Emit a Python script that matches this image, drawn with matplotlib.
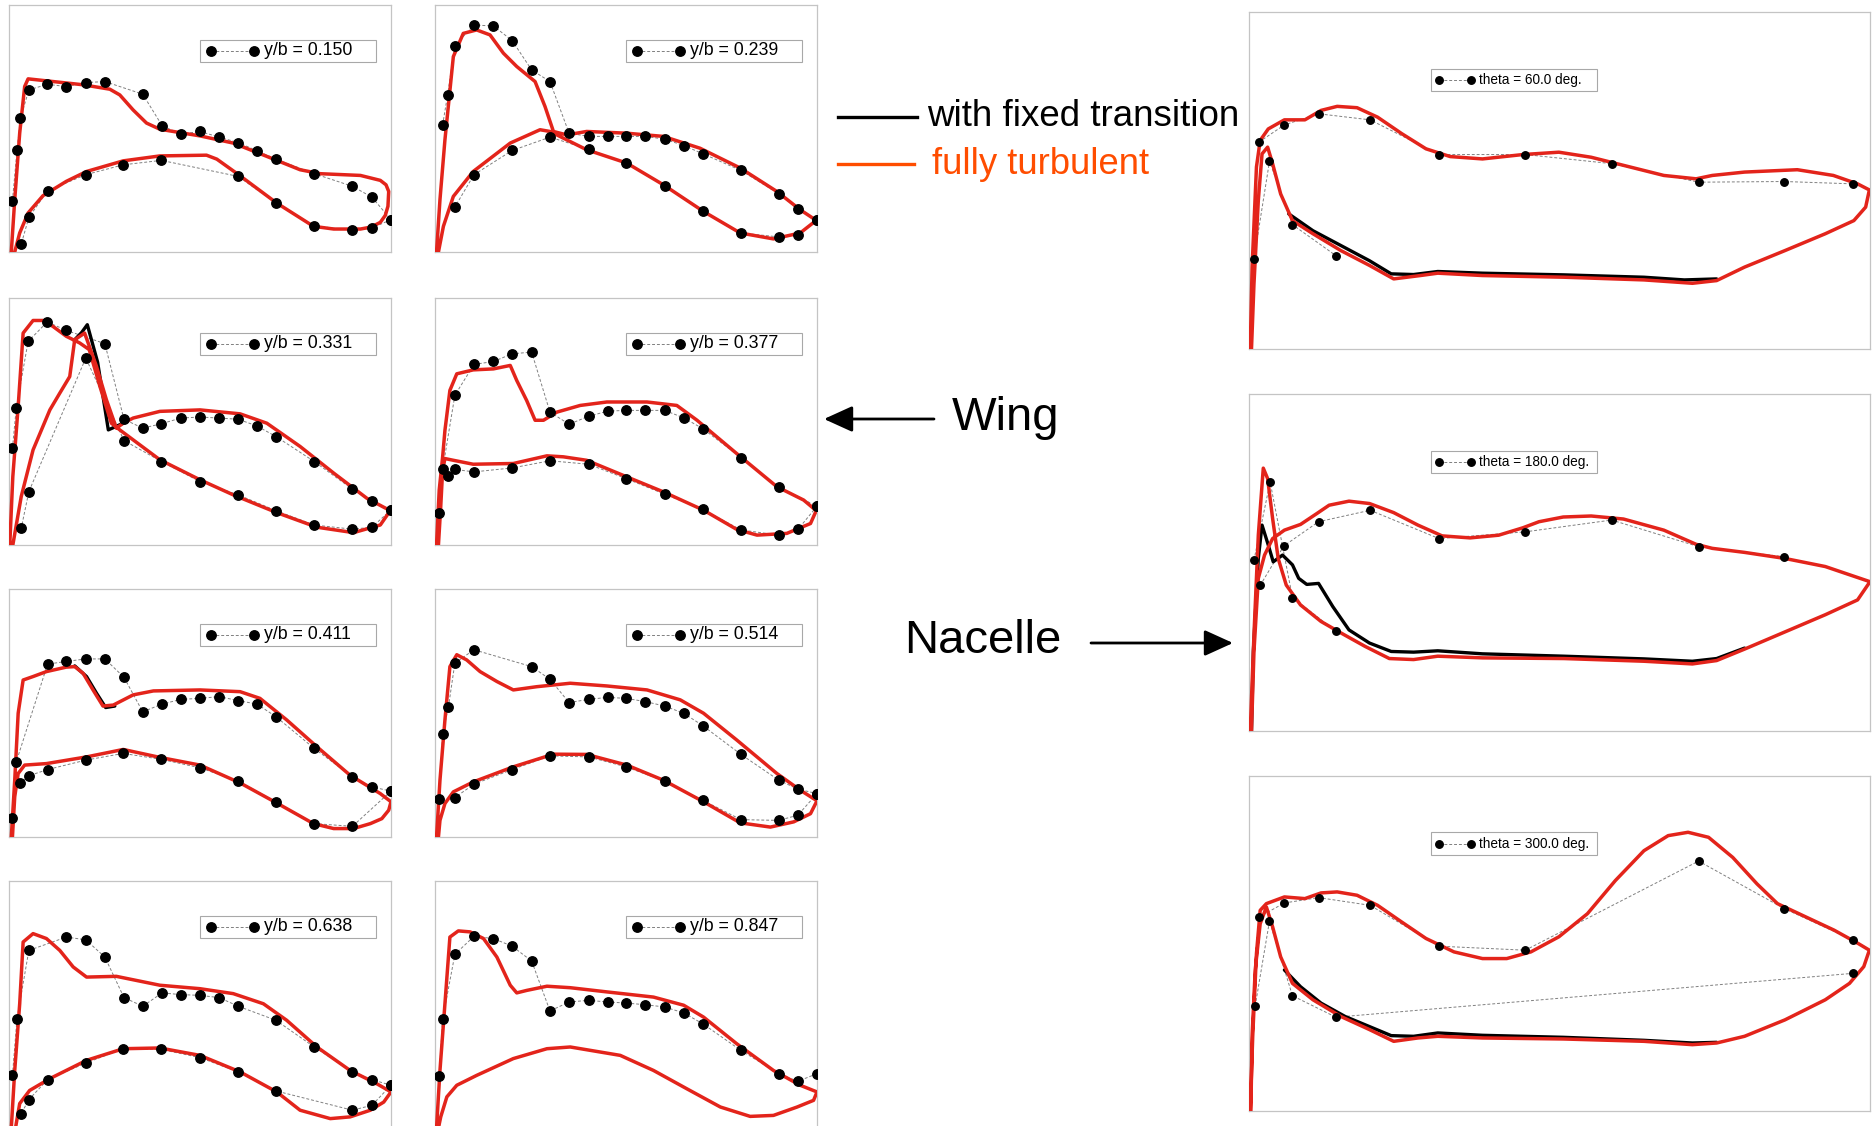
import matplotlib
matplotlib.use("Agg")
import matplotlib.pyplot as plt
from matplotlib import font_manager as fm
from matplotlib.patches import Rectangle, FancyArrowPatch

plt.rcParams['font.family'] = ['Liberation Sans', 'DejaVu Sans']
_names = {f.name for f in fm.fontManager.ttflist}
NARROW = 'Liberation Sans Narrow' if 'Liberation Sans Narrow' in _names else 'Liberation Sans'
NARROW_SIZE = 11.5 if NARROW == 'Liberation Sans Narrow' else 9.8

RED = "#e3241b"
ORANGE = "#ff4d00"
FRAME = "#c4c4c4"

# all values: x = fraction of chord, y = fraction of panel height (-Cp upward)

# ---------------------------------------------------------------- wing y/b = 0.150
w150_cfd_x = [.006, .015, .028, .041, .050, .098, .194, .264, .290, .325, .360, .395, .500, .587, .675,
              .762, .815, .920, .972, .987, .994, .992, .985, .972, .948, .920, .850, .797, .701, .601,
              .544, .517, .395, .299, .203, .150, .089, .050, .028, .015]
w150_cfd_y = [0, .212, .481, .670, .701, .693, .677, .659, .636, .575, .522, .497, .470, .441, .387,
              .333, .317, .310, .290, .272, .245, .185, .148, .120, .101, .093, .093, .104, .198, .313,
              .376, .392, .389, .369, .326, .286, .228, .158, .077, 0]
w150_up_x = [.009, .021, .030, .052, .100, .150, .201, .251, .350, .401, .450, .500, .550, .600, .649,
             .699, .799, .899, .950, 1.0]
w150_up_y = [.208, .411, .542, .656, .679, .670, .686, .690, .639, .511, .477, .488, .465, .443, .410,
             .376, .317, .266, .222, .131]
w150_lo_x = [1.0, .950, .899, .799, .699, .600, .399, .299, .201, .101, .052, .032]
w150_lo_y = [.131, .097, .088, .106, .198, .306, .371, .353, .313, .248, .140, .032]

# ---------------------------------------------------------------- wing y/b = 0.239
w239_cfd_x = [.004, .013, .026, .048, .074, .109, .144, .179, .214, .262, .288, .310, .345, .397, .502,
              .598, .694, .799, .895, .956, .998, .956, .886, .799, .703, .598, .502, .397, .345, .301,
              .275, .197, .100, .048, .022, .009]
w239_cfd_y = [0, .212, .454, .791, .885, .899, .879, .805, .751, .690, .589, .488, .474, .488, .481,
              .468, .420, .340, .245, .171, .128, .077, .053, .077, .164, .272, .360, .414, .454, .488,
              .495, .441, .326, .225, .104, 0]
w239_up_x = [.020, .033, .052, .102, .153, .202, .253, .301, .351, .402, .452, .500, .551, .601, .651,
             .701, .801, .900, .950, 1.0]
w239_up_y = [.515, .636, .836, .919, .915, .856, .737, .690, .481, .468, .468, .468, .468, .457, .431,
             .398, .330, .236, .174, .131]
w239_lo_x = [1.0, .950, .900, .801, .701, .601, .500, .402, .301, .202, .102, .052]
w239_lo_y = [.131, .070, .061, .077, .168, .268, .360, .416, .465, .411, .313, .182]

# ---------------------------------------------------------------- wing y/b = 0.331
w331_cfd_x = [.002, .010, .024, .037, .063, .089, .115, .150, .185, .210, .238, .268, .290, .395, .500,
              .587, .701, .806, .902, .972, .998,
              .937, .850, .762, .675, .605, .500, .395, .325, .299, .281, .255, .229, .198, .172,
              .159, .133, .107, .063, .032, .010]
w331_cfd_y = [0, .277, .561, .858, .909, .909, .885, .845, .818, .791, .642, .493, .466, .345, .264,
              .203, .131, .072, .050, .081, .139,
              .189, .291, .399, .493, .531, .547, .541, .514, .493, .473, .588, .723, .858, .831,
              .682, .615, .547, .385, .196, 0]
w331_blk_x = [.172, .190, .205, .232, .260, .299]
w331_blk_y = [.831, .860, .892, .740, .466, .493]
w331_up_x = [.009, .019, .050, .100, .150, .251, .301, .350, .399, .450, .500, .550, .600, .649, .699,
             .799, .899, .950, 1.0]
w331_up_y = [.392, .554, .824, .903, .869, .815, .509, .473, .491, .514, .518, .514, .509, .482, .439,
             .338, .226, .178, .142]
w331_lo_x = [1.0, .950, .899, .799, .699, .600, .500, .399, .301, .201, .052, .032]
w331_lo_y = [.142, .072, .064, .081, .139, .203, .257, .338, .423, .757, .216, .068]

# ---------------------------------------------------------------- wing y/b = 0.377
w377_cfd_x = [.004, .011, .020, .026, .039, .057, .100, .153, .197, .214, .240, .262, .284, .319, .380,
              .450, .555, .633, .686, .790, .895, .965, .998, .983, .921, .843, .790, .703, .598, .502,
              .397, .336, .293, .205, .100, .048, .026, .020, .015, .009]
w377_cfd_y = [0, .222, .357, .464, .626, .693, .709, .713, .727, .666, .585, .505, .505, .538, .565,
              .579, .579, .565, .505, .370, .236, .182, .139, .087, .047, .040, .063, .141, .215, .276,
              .343, .357, .361, .330, .327, .343, .350, .303, .155, 0]
w377_up_x = [.011, .020, .052, .102, .153, .202, .253, .301, .351, .402, .452, .500, .551, .601, .651,
             .701, .801, .900, 1.0]
w377_up_y = [.128, .306, .606, .731, .743, .774, .781, .538, .489, .521, .542, .545, .545, .545, .515,
             .471, .354, .233, .157]
w377_lo_x = [1.0, .950, .900, .801, .701, .601, .500, .402, .301, .202, .102, .052, .033]
w377_lo_y = [.157, .063, .040, .061, .144, .206, .269, .327, .341, .312, .296, .306, .279]

# ---------------------------------------------------------------- wing y/b = 0.411
w411_cfd_x = [.006, .015, .024, .037, .063, .098, .150, .172, .194, .220, .246, .273, .325, .378, .500,
              .605, .657, .727, .806, .893, .972, 1.0, .994, .976, .946, .902, .850, .797, .701, .605,
              .500, .395, .299, .203, .098, .041, .024, .015, .009]
w411_cfd_y = [0, .229, .499, .633, .647, .667, .685, .687, .660, .593, .528, .532, .573, .589, .593,
              .586, .559, .472, .364, .249, .175, .142, .108, .074, .054, .034, .034, .054, .137, .218,
              .290, .321, .353, .323, .296, .290, .256, .162, 0]
w411_blk_x = [.172, .203, .229, .253, .277]
w411_blk_y = [.690, .647, .580, .522, .528]
w411_up_x = [.009, .019, .101, .150, .201, .251, .301, .350, .401, .450, .500, .550, .600, .649, .699,
             .799, .899, .950, 1.0]
w411_up_y = [.078, .303, .697, .708, .718, .718, .644, .505, .536, .555, .559, .566, .550, .536, .485,
             .357, .243, .202, .185]
w411_lo_x = [1.0, .899, .799, .699, .600, .500, .399, .299, .201, .101, .052, .030]
w411_lo_y = [.185, .043, .054, .142, .225, .279, .313, .337, .310, .272, .247, .218]

# ---------------------------------------------------------------- wing y/b = 0.514
w514_cfd_x = [.004, .013, .026, .039, .057, .083, .118, .162, .205, .266, .354, .450, .555, .642, .703,
              .790, .895, .956, 1.0, .983, .939, .878, .799, .703, .598, .502, .397, .310, .205, .100,
              .048, .026, .013, .009]
w514_cfd_y = [0, .229, .472, .687, .735, .714, .667, .627, .593, .606, .620, .609, .593, .553, .499,
              .391, .256, .189, .146, .094, .061, .040, .057, .142, .229, .290, .333, .334, .283, .222,
              .182, .135, .067, 0]
w514_up_x = [.011, .020, .035, .052, .102, .253, .301, .351, .402, .452, .500, .551, .601, .651, .701,
             .801, .900, .950, 1.0]
w514_up_y = [.155, .415, .523, .701, .755, .687, .636, .542, .555, .563, .559, .546, .528, .499, .449,
             .333, .229, .193, .175]
w514_lo_x = [1.0, .950, .900, .801, .701, .601, .500, .402, .301, .202, .102, .052]
w514_lo_y = [.175, .088, .067, .070, .148, .225, .283, .323, .327, .272, .213, .159]

# ---------------------------------------------------------------- wing y/b = 0.638
w638_cfd_x = [.006, .015, .028, .037, .063, .098, .133, .168, .203, .281, .395, .500, .587, .666, .727,
              .806, .893, .963, 1.0, .981, .946, .893, .841, .762, .701, .605, .500, .395, .299, .203,
              .107, .054, .028, .017]
w638_cfd_y = [0, .233, .503, .753, .787, .767, .719, .652, .611, .614, .578, .564, .544, .503, .436,
              .328, .233, .179, .146, .105, .072, .045, .038, .072, .146, .227, .294, .324, .321, .274,
              .200, .152, .099, 0]
w638_up_x = [.009, .021, .052, .150, .201, .251, .301, .350, .401, .450, .500, .550, .600, .699, .799,
             .899, .950, 1.0]
w638_up_y = [.213, .443, .719, .773, .762, .692, .528, .493, .547, .540, .537, .528, .493, .436, .328,
             .227, .196, .173]
w638_lo_x = [1.0, .950, .899, .699, .600, .500, .399, .299, .201, .101, .052, .032]
w638_lo_y = [.173, .092, .072, .150, .227, .285, .318, .321, .263, .196, .115, .058]

# ---------------------------------------------------------------- wing y/b = 0.847
w847_cfd_x = [.004, .013, .026, .039, .061, .092, .127, .162, .197, .214, .240, .293, .354, .450, .572,
              .651, .703, .790, .886, .956, 1.0, .991, .948, .886, .825, .747, .659, .572, .485, .354,
              .293, .205, .109, .057, .031, .015, .009]
w847_cfd_y = [0, .233, .503, .773, .798, .794, .767, .692, .578, .547, .557, .574, .568, .551, .530,
              .497, .449, .341, .233, .173, .146, .112, .085, .051, .047, .085, .159, .233, .294, .328,
              .321, .281, .213, .173, .126, .045, 0]
w847_up_x = [.011, .020, .052, .102, .153, .202, .253, .301, .351, .402, .452, .500, .551, .601, .651,
             .701, .801, .900, .950, 1.0]
w847_up_y = [.211, .440, .703, .776, .767, .736, .676, .474, .510, .517, .510, .506, .499, .490, .466,
             .422, .314, .220, .189, .220]

# ---------------------------------------------------------------- nacelle theta = 60
n60_cfd_x = [.002, .005, .012, .018, .031, .057, .090, .116, .142, .174, .207, .246, .285, .324, .376,
             .441, .499, .551, .603, .668, .720, .746, .798, .883, .941, .980, .999, .993, .974, .928,
             .863, .798, .753, .714, .636, .507, .376, .304, .276, .233, .194, .148, .103, .070, .051,
             .038, .030, .021, .015, .008, .004]
n60_cfd_y = [0, .243, .540, .619, .653, .680, .680, .708, .720, .716, .688, .639, .594, .571, .564,
             .577, .584, .569, .545, .515, .505, .515, .525, .532, .515, .490, .472, .421, .381, .342,
             .292, .243, .203, .195, .205, .213, .218, .225, .218, .208, .248, .292, .342, .381, .460,
             .550, .599, .579, .441, .193, 0]
n60_blk_x = [.064, .103, .148, .194, .229, .265, .304, .376, .507, .636, .701, .753]
n60_blk_y = [.401, .351, .307, .262, .223, .221, .230, .225, .220, .213, .205, .208]
n60_up_x = [.016, .057, .112, .195, .306, .445, .584, .724, .862, .973]
n60_up_y = [.614, .665, .698, .680, .577, .577, .550, .495, .497, .490]
n60_lo_x = [.008, .033, .070, .140]
n60_lo_y = [.267, .557, .369, .277]

# ---------------------------------------------------------------- nacelle theta = 180
n180_cfd_x = [.002, .008, .015, .023, .030, .038, .047, .060, .083, .116, .148, .187, .226, .265, .304,
              .376, .507, .636, .714, .753, .798, .863, .928, .980, 1.0, .928, .863, .798, .746, .720,
              .668, .603, .551, .506, .467, .441, .402, .356, .311, .272, .233, .194, .161, .129, .109,
              .083, .057, .038, .025, .015, .008, .004]
n180_cfd_y = [0, .286, .581, .780, .749, .631, .512, .433, .374, .325, .291, .251, .215, .212, .222,
              .217, .215, .207, .199, .209, .243, .294, .345, .389, .443, .488, .512, .530, .542, .554,
              .596, .629, .638, .635, .621, .603, .581, .573, .579, .611, .648, .675, .682, .670, .645,
              .613, .596, .571, .522, .453, .236, 0]
n180_blk_x = [.004, .007, .015, .021, .031, .039, .054, .070, .080, .093, .112, .135, .161, .194, .229,
              .265, .304, .376, .507, .636, .714, .753, .798]
n180_blk_y = [0, .236, .512, .611, .552, .502, .522, .493, .453, .435, .438, .369, .300, .261, .236,
              .234, .238, .229, .222, .214, .207, .215, .246]
n180_up_x = [.018, .056, .112, .195, .306, .445, .584, .724, .862]
n180_up_y = [.432, .549, .621, .655, .571, .591, .626, .547, .517]
n180_lo_x = [.008, .034, .070, .140]
n180_lo_y = [.507, .739, .396, .296]

# ---------------------------------------------------------------- nacelle theta = 300
n300_cfd_x = [.002, .006, .012, .018, .028, .057, .090, .116, .142, .174, .207, .246, .285, .330, .376,
              .415, .454, .499, .545, .590, .636, .675, .707, .740, .779, .818, .851, .897, .942, .981,
              .999, .990, .967, .928, .863, .798, .753, .714, .636, .506, .376, .304, .272, .233, .194,
              .148, .103, .070, .051, .038, .028, .018, .010, .005, .003]
n300_cfd_y = [0, .223, .470, .599, .619, .639, .634, .651, .654, .644, .614, .564, .515, .475, .455,
              .455, .475, .520, .589, .688, .777, .822, .832, .817, .757, .678, .619, .579, .540, .500,
              .480, .431, .381, .332, .272, .223, .203, .198, .208, .215, .218, .223, .218, .208, .243,
              .282, .332, .381, .460, .550, .609, .559, .421, .223, 0]
n300_blk_x = [.057, .083, .116, .155, .194, .229, .265, .304, .376, .506, .636, .714, .753]
n300_blk_y = [.421, .371, .322, .282, .252, .225, .223, .233, .226, .220, .211, .203, .205]
n300_up_x = [.016, .057, .112, .195, .306, .445, .724, .862, .973]
n300_up_y = [.579, .621, .637, .614, .492, .480, .746, .604, .510]
n300_lo_x = [.010, .033, .070, .140, .973]
n300_lo_y = [.314, .567, .344, .280, .411]

WIDTH, HEIGHT = 1873, 1126
fig = plt.figure(figsize=(WIDTH / 100, HEIGHT / 100), dpi=100)
fig.patch.set_facecolor("white")


def add_panel(x0, y0, x1, y1):
    ax = fig.add_axes([x0 / WIDTH, 1 - y1 / HEIGHT, (x1 - x0) / WIDTH, (y1 - y0) / HEIGHT])
    ax.set_xlim(0, 1)
    ax.set_ylim(0, 1)
    ax.set_xticks([])
    ax.set_yticks([])
    for sp in ax.spines.values():
        sp.set_color(FRAME)
        sp.set_linewidth(0.9)
    return ax


def draw(ax, cfd, exps, blacks, label, nacelle=False):
    ms = 5.4 if nacelle else 6.8
    for ex, ey in exps:
        ax.plot(ex, ey, color="#808080", lw=0.7, ls=(0, (3, 2)), zorder=1)
    for bx, by in blacks:
        ax.plot(bx, by, color="black", lw=2.4, solid_joinstyle="round", solid_capstyle="round", zorder=2)
    ax.plot(cfd[0], cfd[1], color=RED, lw=2.5, solid_joinstyle="round", zorder=3)
    for ex, ey in exps:
        ax.plot(ex, ey, ls="none", marker="o", ms=ms, color="black", zorder=4)
    # in-panel legend box
    if nacelle:
        bx0, by0, bw, bh, m1, m2, tx, fs, fam = .293, .765, .268, .067, .306, .358, .371, NARROW_SIZE, NARROW
    else:
        bx0, by0, bw, bh, m1, m2, tx, fs, fam = .50, .77, .46, .09, .528, .642, .668, 12.8, "Liberation Sans"
    yc = by0 + bh / 2
    ax.add_patch(Rectangle((bx0, by0), bw, bh, transform=ax.transAxes, fill=False,
                           ec="#a8a8a8", lw=0.8, zorder=5))
    ax.plot([m1, m2], [yc, yc], color="#808080", lw=0.7, ls=(0, (3, 2)), zorder=5)
    ax.plot([m1, m2], [yc, yc], ls="none", marker="o", ms=ms, color="black", zorder=6)
    ax.text(tx, yc, label, fontsize=fs, family=fam, va="center", ha="left", zorder=6)


wing_cols = [(9, 391), (435, 817)]
wing_rows = [(5, 252), (298, 545), (589, 837), (881, 1128)]
wing = [
    ("y/b = 0.150", (w150_cfd_x, w150_cfd_y), [(w150_up_x, w150_up_y), (w150_lo_x, w150_lo_y)], []),
    ("y/b = 0.239", (w239_cfd_x, w239_cfd_y), [(w239_up_x, w239_up_y), (w239_lo_x, w239_lo_y)], []),
    ("y/b = 0.331", (w331_cfd_x, w331_cfd_y), [(w331_up_x, w331_up_y), (w331_lo_x, w331_lo_y)],
     [(w331_blk_x, w331_blk_y)]),
    ("y/b = 0.377", (w377_cfd_x, w377_cfd_y), [(w377_up_x, w377_up_y), (w377_lo_x, w377_lo_y)], []),
    ("y/b = 0.411", (w411_cfd_x, w411_cfd_y), [(w411_up_x, w411_up_y), (w411_lo_x, w411_lo_y)],
     [(w411_blk_x, w411_blk_y)]),
    ("y/b = 0.514", (w514_cfd_x, w514_cfd_y), [(w514_up_x, w514_up_y), (w514_lo_x, w514_lo_y)], []),
    ("y/b = 0.638", (w638_cfd_x, w638_cfd_y), [(w638_up_x, w638_up_y), (w638_lo_x, w638_lo_y)], []),
    ("y/b = 0.847", (w847_cfd_x, w847_cfd_y), [(w847_up_x, w847_up_y)], []),
]
for i, (label, cfd, exps, blacks) in enumerate(wing):
    (cx0, cx1), (ry0, ry1) = wing_cols[i % 2], wing_rows[i // 2]
    draw(add_panel(cx0, ry0, cx1, ry1), cfd, exps, blacks, label)

nac_rows = [(12, 349), (394, 731), (776, 1111)]
nacelle = [
    ("theta = 60.0 deg.", (n60_cfd_x, n60_cfd_y), [(n60_up_x, n60_up_y), (n60_lo_x, n60_lo_y)],
     [(n60_blk_x, n60_blk_y)]),
    ("theta = 180.0 deg.", (n180_cfd_x, n180_cfd_y), [(n180_up_x, n180_up_y), (n180_lo_x, n180_lo_y)],
     [(n180_blk_x, n180_blk_y)]),
    ("theta = 300.0 deg.", (n300_cfd_x, n300_cfd_y), [(n300_up_x, n300_up_y), (n300_lo_x, n300_lo_y)],
     [(n300_blk_x, n300_blk_y)]),
]
for (label, cfd, exps, blacks), (ry0, ry1) in zip(nacelle, nac_rows):
    draw(add_panel(1249, ry0, 1870, ry1), cfd, exps, blacks, label, nacelle=True)


# ---------------------------------------------------------------- annotations
def fx(px):
    return px / WIDTH


def fy(py):
    return 1 - py / HEIGHT


fig.add_artist(plt.Line2D([fx(838), fx(917)], [fy(117), fy(117)], color="black", lw=2.4))
fig.text(fx(927), fy(117), "with fixed transition", fontsize=26.5, color="black", va="center", ha="left")
fig.add_artist(plt.Line2D([fx(838), fx(914)], [fy(164), fy(164)], color=ORANGE, lw=2.4))
fig.text(fx(932), fy(164), "fully turbulent", fontsize=26.3, color=ORANGE, va="center", ha="left")

fig.text(fx(952), fy(418), "Wing", fontsize=34, color="black", va="center", ha="left")
fig.add_artist(FancyArrowPatch((fx(934), fy(419)), (fx(824), fy(419)), transform=fig.transFigure,
                               arrowstyle="-|>,head_length=0.55,head_width=0.25", mutation_scale=32,
                               color="black", lw=2.0, shrinkA=0, shrinkB=0))
fig.text(fx(904), fy(641), "Nacelle", fontsize=34, color="black", va="center", ha="left")
fig.add_artist(FancyArrowPatch((fx(1091), fy(643)), (fx(1233), fy(643)), transform=fig.transFigure,
                               arrowstyle="-|>,head_length=0.55,head_width=0.25", mutation_scale=32,
                               color="black", lw=2.0, shrinkA=0, shrinkB=0))

fig.savefig("out.png", dpi=100, facecolor="white")
